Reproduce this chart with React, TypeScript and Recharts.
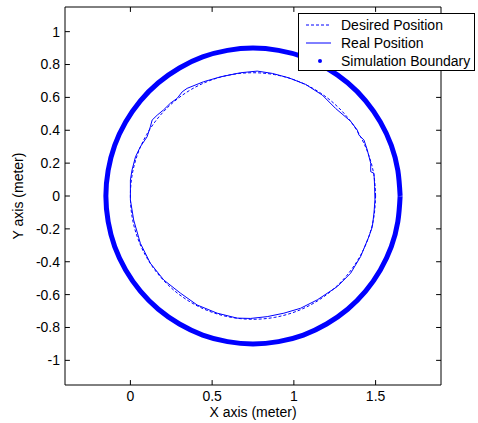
import { LineChart, Line, XAxis, YAxis, ReferenceLine } from "recharts";

const FONT = "'Liberation Sans', Arial, Helvetica, sans-serif";
const BLUE = "#0000ff";

// axis setup
const xDomain = [-0.4, 1.9];
const yDomain = [-1.15, 1.15];
const xTicks = [0, 0.5, 1, 1.5];
const yTicks = [-1, -0.8, -0.6, -0.4, -0.2, 0, 0.2, 0.4, 0.6, 0.8, 1];

// simulation boundary (outer ring), read every 10 degrees
const boundaryX = [
  1.65, 1.636, 1.596, 1.529, 1.439, 1.329, 1.2, 1.058, 0.906, 0.75, 0.594, 0.442,
  0.3, 0.171, 0.061, -0.029, -0.096, -0.136, -0.15, -0.136, -0.096, -0.029, 0.061,
  0.171, 0.3, 0.442, 0.594, 0.75, 0.906, 1.058, 1.2, 1.329, 1.439, 1.529, 1.596,
  1.636, 1.65,
];
const boundaryY = [
  0, 0.156, 0.308, 0.45, 0.579, 0.689, 0.779, 0.846, 0.886, 0.9, 0.886, 0.846,
  0.779, 0.689, 0.579, 0.45, 0.308, 0.156, 0, -0.156, -0.308, -0.45, -0.579,
  -0.689, -0.779, -0.846, -0.886, -0.9, -0.886, -0.846, -0.779, -0.689, -0.579,
  -0.45, -0.308, -0.156, 0,
];

// desired position (dashed circle)
const desiredX = [
  1.5, 1.489, 1.455, 1.4, 1.325, 1.232, 1.125, 1.007, 0.88, 0.75, 0.62, 0.493,
  0.375, 0.268, 0.175, 0.1, 0.045, 0.011, 0, 0.011, 0.045, 0.1, 0.175, 0.268,
  0.375, 0.493, 0.62, 0.75, 0.88, 1.007, 1.125, 1.232, 1.325, 1.4, 1.455, 1.489,
  1.5,
];
const desiredY = [
  0, 0.13, 0.257, 0.375, 0.482, 0.575, 0.65, 0.705, 0.739, 0.75, 0.739, 0.705,
  0.65, 0.575, 0.482, 0.375, 0.257, 0.13, 0, -0.13, -0.257, -0.375, -0.482,
  -0.575, -0.65, -0.705, -0.739, -0.75, -0.739, -0.705, -0.65, -0.575, -0.482,
  -0.375, -0.257, -0.13, 0,
];

// real (measured) position
const realX = [
  1.496, 1.494, 1.49, 1.47, 1.47, 1.449, 1.429, 1.398, 1.388, 1.347, 1.255, 1.174,
  1.072, 0.969, 0.868, 0.776, 0.674, 0.551, 0.447, 0.347, 0.317, 0.286, 0.245,
  0.202, 0.164, 0.133, 0.122, 0.102, 0.061, 0.031, 0.01, 0, 0, 0.02, 0.061, 0.122,
  0.204, 0.306, 0.408, 0.531, 0.653, 0.735, 0.837, 0.939, 1.041, 1.143, 1.266,
  1.347, 1.408, 1.459, 1.48, 1.49, 1.496,
];
const realY = [
  -0.024, 0.057, 0.138, 0.148, 0.199, 0.28, 0.34, 0.371, 0.401, 0.455, 0.533, 0.614,
  0.679, 0.719, 0.746, 0.76, 0.75, 0.725, 0.695, 0.655, 0.634, 0.594, 0.565,
  0.523, 0.492, 0.462, 0.421, 0.36, 0.3, 0.238, 0.158, 0.097, -0.024, -0.146,
  -0.288, -0.409, -0.511, -0.591, -0.663, -0.713, -0.743, -0.745, -0.734, -0.713,
  -0.683, -0.632, -0.551, -0.47, -0.369, -0.247, -0.187, -0.103, -0.024,
];

const zip = (xs: number[], ys: number[]) => xs.map((x, i) => ({ x, y: ys[i] }));

const boundary = zip(boundaryX, boundaryY);
const desired = zip(desiredX, desiredY);
const real = zip(realX, realY);

const TICK = 0.03;

function LegendBox() {
  const row = { display: "flex", alignItems: "center", height: 18 } as const;
  return (
    <div
      style={{
        position: "absolute",
        left: 298,
        top: 13,
        width: 177,
        height: 58,
        border: "1px solid #000",
        background: "#fff",
        fontFamily: FONT,
        fontSize: 14,
        color: "#000",
        boxSizing: "border-box",
        paddingTop: 2,
      }}
    >
      <div style={row}>
        <svg width={42} height={18}>
          <line x1={7} y1={9} x2={32} y2={9} stroke={BLUE} strokeDasharray="3 2" />
        </svg>
        <span>Desired Position</span>
      </div>
      <div style={row}>
        <svg width={42} height={18}>
          <line x1={7} y1={9} x2={32} y2={9} stroke={BLUE} />
        </svg>
        <span>Real Position</span>
      </div>
      <div style={row}>
        <svg width={42} height={18}>
          <circle cx={21} cy={9} r={2} fill={BLUE} />
        </svg>
        <span>Simulation Boundary</span>
      </div>
    </div>
  );
}

export default function App() {
  return (
    <div style={{ position: "absolute", left: 0, top: 0, width: 478, height: 423, background: "#fff" }}>
      <LineChart
        width={478}
        height={423}
        margin={{ top: 7, right: 37, bottom: 20, left: 10 }}
        style={{ fontFamily: FONT }}
      >
        <XAxis
          type="number"
          dataKey="x"
          domain={xDomain}
          ticks={xTicks}
          allowDataOverflow
          tickLine={false}
          tickSize={0}
          tickMargin={6}
          height={18}
          axisLine={{ stroke: "#000" }}
          tick={{ fill: "#000", fontSize: 14 }}
          label={{ value: "X axis (meter)", position: "bottom", offset: 4, fill: "#000", fontSize: 14 }}
        />
        <YAxis
          type="number"
          dataKey="y"
          domain={yDomain}
          ticks={yTicks}
          allowDataOverflow
          tickLine={false}
          tickSize={0}
          tickMargin={5}
          width={55}
          axisLine={{ stroke: "#000" }}
          tick={{ fill: "#000", fontSize: 14 }}
          label={{
            value: "Y axis (meter)",
            angle: -90,
            position: "insideLeft",
            offset: 8,
            fill: "#000",
            fontSize: 14,
            textAnchor: "middle",
          }}
        />

        {/* top and right edges of the box */}
        <ReferenceLine x={xDomain[1]} stroke="#000" ifOverflow="visible" />
        <ReferenceLine y={yDomain[1]} stroke="#000" ifOverflow="visible" />

        {/* inward ticks on all four sides */}
        {xTicks.map((t) => (
          <ReferenceLine
            key={`xb${t}`}
            segment={[{ x: t, y: yDomain[0] }, { x: t, y: yDomain[0] + TICK }]}
            stroke="#000"
            ifOverflow="visible"
          />
        ))}
        {xTicks.map((t) => (
          <ReferenceLine
            key={`xt${t}`}
            segment={[{ x: t, y: yDomain[1] }, { x: t, y: yDomain[1] - TICK }]}
            stroke="#000"
            ifOverflow="visible"
          />
        ))}
        {yTicks.map((t) => (
          <ReferenceLine
            key={`yl${t}`}
            segment={[{ x: xDomain[0], y: t }, { x: xDomain[0] + TICK, y: t }]}
            stroke="#000"
            ifOverflow="visible"
          />
        ))}
        {yTicks.map((t) => (
          <ReferenceLine
            key={`yr${t}`}
            segment={[{ x: xDomain[1], y: t }, { x: xDomain[1] - TICK, y: t }]}
            stroke="#000"
            ifOverflow="visible"
          />
        ))}

        <Line
          data={boundary}
          dataKey="y"
          type="natural"
          stroke={BLUE}
          strokeWidth={5}
          dot={false}
          isAnimationActive={false}
        />
        <Line
          data={desired}
          dataKey="y"
          type="natural"
          stroke={BLUE}
          strokeWidth={1}
          strokeDasharray="3 2"
          dot={false}
          isAnimationActive={false}
        />
        <Line
          data={real}
          dataKey="y"
          type="linear"
          stroke={BLUE}
          strokeWidth={1}
          dot={false}
          isAnimationActive={false}
        />
      </LineChart>
      <LegendBox />
    </div>
  );
}
